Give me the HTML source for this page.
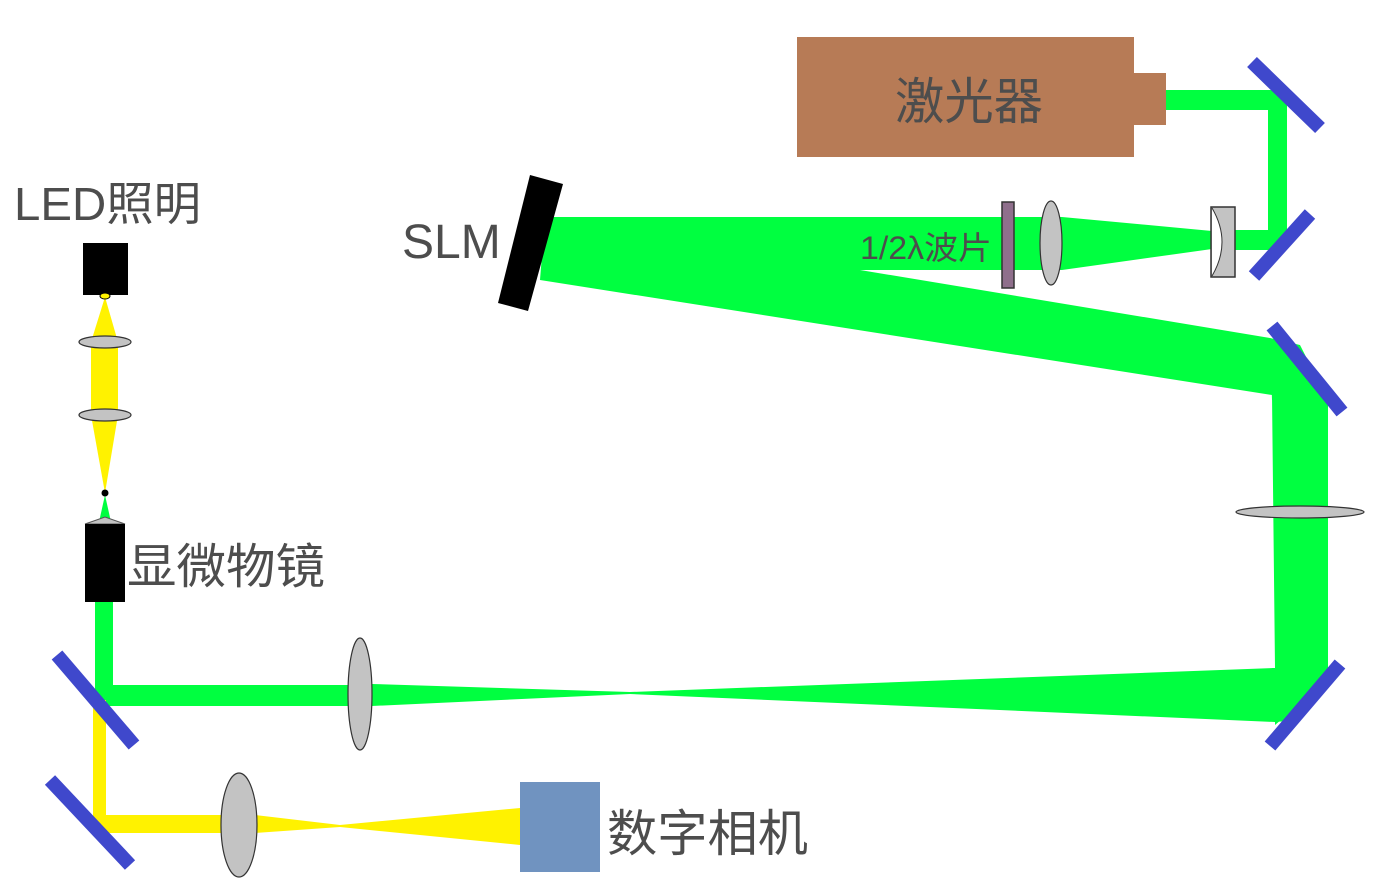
<!DOCTYPE html>
<html><head><meta charset="utf-8"><style>
html,body{margin:0;padding:0;background:#fff;width:1381px;height:889px;overflow:hidden}
svg text{font-family:"Liberation Sans","Noto Sans CJK SC",sans-serif;fill:#4d4d4d}
</style></head><body>
<svg width="1381" height="889" viewBox="0 0 1381 889" xmlns="http://www.w3.org/2000/svg">
<g fill="#00ff40">
<rect x="1160" y="90" width="127" height="20"/>
<rect x="1268" y="90" width="19" height="160"/>
<rect x="1234" y="230" width="53" height="20"/>
<polygon points="1212,231 1212,249 1062,270 1062,217"/>
<polygon points="545,217 1062,217 1062,270 860,270 1270,338 1328,395 1328,680 1275,725 1275,722 630,694 372,706 372,684 630,692 1275,668 1272,395 540,280"/>
<polygon points="1270,338 1300,345 1328,400 1272,400"/>
<polygon points="1272,668 1328,668 1300,720 1275,722"/>
<rect x="95" y="600" width="18" height="106"/>
<rect x="95" y="685" width="270" height="21"/>
<polygon points="105,495 111,522 99,522"/>
</g>
<g fill="#fff200">
<polygon points="105,297 118,342 118,415 105,493 91,415 91,342"/>
<rect x="93" y="700" width="13" height="133"/>
<rect x="93" y="815" width="150" height="18"/>
<polygon points="255,815 340,825 520,808 520,845 340,827 255,833"/>
</g>
<rect x="797" y="37" width="337" height="120" fill="#b77b56"/>
<rect x="1133" y="73" width="33" height="52" fill="#b77b56"/>
<text x="895" y="119" font-size="50" textLength="148" lengthAdjust="spacingAndGlyphs">激光器</text>
<g stroke="#3f48cc" stroke-width="14" stroke-linecap="butt">
<line x1="1252" y1="62" x2="1320" y2="128"/>
<line x1="1310" y1="214" x2="1254" y2="276"/>
<line x1="1272" y1="326" x2="1342" y2="412"/>
<line x1="1340" y1="664" x2="1270" y2="746"/>
<line x1="57" y1="655" x2="134" y2="745"/>
<line x1="50" y1="780" x2="130" y2="865"/>
</g>
<rect x="1211" y="207" width="24" height="70" fill="#c3c3c3" stroke="#333" stroke-width="1.5"/>
<path d="M1212,208 Q1232,242 1212,276" fill="#fff" stroke="#333" stroke-width="1"/>
<rect x="1002" y="202" width="12" height="86" fill="#8f6f8c" stroke="#333" stroke-width="1.5"/>
<ellipse cx="1051" cy="243" rx="11" ry="42" fill="#c3c3c3" stroke="#333" stroke-width="1.2"/>
<text x="860" y="259" font-size="32" textLength="132" lengthAdjust="spacingAndGlyphs">1/2λ波片</text>
<polygon points="530,175 563,184 528,311 498,303" fill="#000"/>
<text x="402" y="258" font-size="48">SLM</text>
<ellipse cx="1300" cy="512" rx="64" ry="6" fill="#c3c3c3" stroke="#333" stroke-width="1.2"/>
<ellipse cx="360" cy="694" rx="12" ry="56" fill="#c3c3c3" stroke="#333" stroke-width="1.2"/>
<ellipse cx="239" cy="825" rx="18" ry="52" fill="#c3c3c3" stroke="#333" stroke-width="1.2"/>
<rect x="520" y="782" width="80" height="90" fill="#7093c0"/>
<text x="607" y="851" font-size="50" textLength="201" lengthAdjust="spacingAndGlyphs">数字相机</text>
<rect x="83" y="243" width="45" height="52" fill="#000"/>
<ellipse cx="105" cy="296" rx="5" ry="3" fill="#fff200" stroke="#000" stroke-width="1"/>
<ellipse cx="105" cy="342" rx="26" ry="6" fill="#c3c3c3" stroke="#333" stroke-width="1.2"/>
<ellipse cx="105" cy="415" rx="26" ry="6" fill="#c3c3c3" stroke="#333" stroke-width="1.2"/>
<circle cx="105" cy="493" r="3.5" fill="#000"/>
<polygon points="85,524 105,517 125,524" fill="#c3c3c3" stroke="#555"/>
<rect x="85" y="524" width="40" height="78" fill="#000"/>
<text x="14" y="220" font-size="46" textLength="187" lengthAdjust="spacingAndGlyphs">LED照明</text>
<text x="127" y="583" font-size="48" textLength="198" lengthAdjust="spacingAndGlyphs">显微物镜</text>
</svg>
</body></html>
